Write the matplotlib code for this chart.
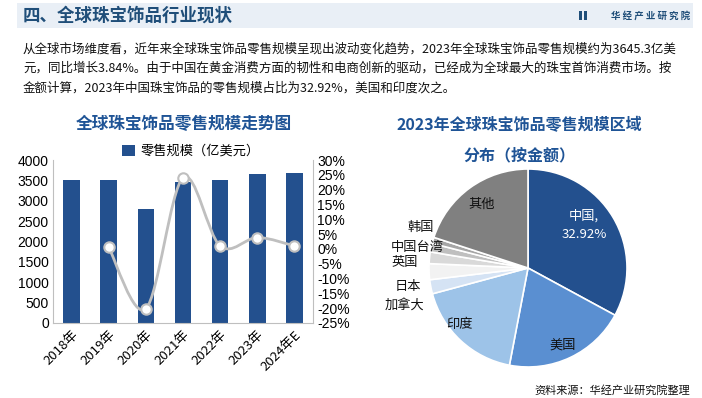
import matplotlib
matplotlib.use('Agg')
import matplotlib.pyplot as plt
import numpy as np
from matplotlib.path import Path
from matplotlib.patches import PathPatch, Rectangle

plt.rcParams['font.family'] = ['Noto Sans CJK SC', 'DejaVu Sans']
plt.rcParams['axes.unicode_minus'] = False

# 数据
years = ['2018年', '2019年', '2020年', '2021年', '2022年', '2023年', '2024年E']
retail = [3510, 3510, 2800, 3470, 3510, 3645.3, 3680]
growth = [None, 0.5, -20.2, 24.0, 1.0, 3.84, 1.0]

regions = ['中国', '美国', '印度', '加拿大', '日本', '英国', '中国台湾', '韩国', '其他']
shares = [32.92, 20.1, 17.8, 2.3, 2.6, 1.9, 1.4, 1.0, 20.0]
pie_colors = ['#23508E', '#5A8FD1', '#9DC3E8', '#D5E3F4', '#F2F2F2',
              '#D9D9D9', '#BFBFBF', '#A6A6A6', '#808080']

blue = '#23508E'
title_blue = '#1F4E79'
sub_blue = '#1F5496'

fig = plt.figure(figsize=(7.02, 3.98), dpi=100)
W, H = 702, 398

def fx(px):
    return px / W

def fy(py):
    return 1 - py / H

# 顶部标题栏
fig.patches.append(Rectangle((fx(17), fy(28)), fx(676), 25 / H, transform=fig.transFigure,
                             facecolor='#E9EFF6', edgecolor='none', zorder=0))
fig.text(fx(23), fy(16), '四、全球珠宝饰品行业现状', fontsize=12.6, fontweight='bold',
         color=title_blue, va='center')
fig.patches.append(Rectangle((fx(579), fy(20)), fx(3), 9 / H, transform=fig.transFigure,
                             facecolor=title_blue, edgecolor='none'))
fig.patches.append(Rectangle((fx(584), fy(20)), fx(3), 9 / H, transform=fig.transFigure,
                             facecolor=title_blue, edgecolor='none'))
fig.text(fx(690), fy(16), '华 经 产 业 研 究 院', fontsize=6.8, fontweight='bold',
         color=title_blue, ha='right', va='center')

para = ['从全球市场维度看，近年来全球珠宝饰品零售规模呈现出波动变化趋势，2023年全球珠宝饰品零售规模约为3645.3亿美',
        '元，同比增长3.84%。由于中国在黄金消费方面的韧性和电商创新的驱动，已经成为全球最大的珠宝首饰消费市场。按',
        '金额计算，2023年中国珠宝饰品的零售规模占比为32.92%，美国和印度次之。']
for i, line in enumerate(para):
    fig.text(fx(23), fy(49 + i * 19.5), line, fontsize=9.0, color='#111111', va='center')

fig.text(fx(184), fy(124), '全球珠宝饰品零售规模走势图', fontsize=12, fontweight='bold',
         color=sub_blue, ha='center', va='center')
fig.text(fx(519), fy(125), '2023年全球珠宝饰品零售规模区域', fontsize=11.5, fontweight='bold',
         color=sub_blue, ha='center', va='center')
fig.text(fx(519), fy(155), '分布（按金额）', fontsize=11.5, fontweight='bold',
         color=sub_blue, ha='center', va='center')

# 柱状图 + 增长率
ax = fig.add_axes([fx(53), fy(323), fx(313 - 53), (323 - 160) / H])
x = np.arange(len(years))
ax.bar(x, retail, width=0.45, color=blue, label='零售规模（亿美元）', zorder=2)
ax.set_xlim(-0.5, len(years) - 0.5)
ax.set_ylim(0, 4000)
ax.set_yticks(np.arange(0, 4001, 500))
ax.set_xticks(x)
ax.set_xticklabels(years, rotation=45, ha='right', rotation_mode='anchor', fontsize=9.5)
ax.tick_params(axis='x', length=0, pad=4)
ax.tick_params(axis='y', length=0, labelsize=10, pad=3)
for lab in ax.get_yticklabels():
    lab.set_family(['Liberation Sans', 'Noto Sans CJK SC'])
for s in ['top', 'right']:
    ax.spines[s].set_visible(False)
for s in ['left', 'bottom']:
    ax.spines[s].set_color('#BFBFBF')
    ax.spines[s].set_linewidth(0.8)
ax.patch.set_alpha(0)
ax.legend(loc='lower center', bbox_to_anchor=(0.53, 0.98), frameon=False, fontsize=9.5,
          handlelength=1.0, handleheight=0.9, handletextpad=0.4, borderaxespad=0)

ax2 = ax.twinx()
ax2.set_ylim(-25, 30)
ax2.set_yticks(np.arange(-25, 31, 5))
ax2.set_yticklabels([f'{v}%' for v in range(-25, 31, 5)])
ax2.tick_params(axis='y', length=0, labelsize=10, pad=3)
for lab in ax2.get_yticklabels():
    lab.set_family(['Liberation Sans', 'Noto Sans CJK SC'])
for s in ['top', 'left', 'bottom']:
    ax2.spines[s].set_visible(False)
ax2.spines['right'].set_color('#BFBFBF')
ax2.spines['right'].set_linewidth(0.8)

# 平滑曲线（Catmull-Rom 转贝塞尔）
gx = [xi for xi, g in zip(x, growth) if g is not None]
gy = [g for g in growth if g is not None]
P = np.column_stack([gx, gy]).astype(float)
verts = [P[0]]
codes = [Path.MOVETO]
n = len(P)
for i in range(n - 1):
    p0 = P[i - 1] if i > 0 else P[i]
    p1, p2 = P[i], P[i + 1]
    p3 = P[i + 2] if i + 2 < n else P[i + 1]
    c1 = p1 + (p2 - p0) / 6
    c2 = p2 - (p3 - p1) / 6
    verts += [c1, c2, p2]
    codes += [Path.CURVE4] * 3
ax2.add_patch(PathPatch(Path(verts, codes), facecolor='none', edgecolor='#BFBFBF',
                        linewidth=2, zorder=3))
ax2.plot(gx, gy, linestyle='none', marker='o', markersize=7.5, markerfacecolor='white',
         markeredgecolor='#BFBFBF', markeredgewidth=1.5, zorder=4)

# 饼图
cx, cy, r = 528, 268, 110
pax = fig.add_axes([fx(cx - r), fy(cy + r), 2 * r / W, 2 * r / H])
pax.pie(shares, colors=pie_colors, startangle=90, counterclock=False, radius=0.9,
        wedgeprops=dict(edgecolor='white', linewidth=1.2))
pax.set_xlim(-1, 1)
pax.set_ylim(-1, 1)
pax.set_aspect('equal')
pax.axis('off')

# 标签位置（轴坐标，单位为半径 100 px）
label_pos = {
    '中国': (0.51, 0.39, 'center', 'white'),
    '美国': (0.32, -0.70, 'center', '#111111'),
    '印度': (-0.62, -0.51, 'center', '#111111'),
    '加拿大': (-0.94, -0.34, 'right', '#111111'),
    '日本': (-0.97, -0.17, 'right', '#111111'),
    '英国': (-1.0, 0.05, 'right', '#111111'),
    '中国台湾': (-0.77, 0.19, 'right', '#111111'),
    '韩国': (-0.85, 0.37, 'right', '#111111'),
    '其他': (-0.42, 0.58, 'center', '#111111'),
}
for name, val in zip(regions, shares):
    lx, ly, ha, col = label_pos[name]
    txt = f'{name},\n{val:.2f}%' if name == '中国' else name
    pax.text(lx, ly, txt, ha=ha, va='center', fontsize=9.5, color=col, linespacing=1.6)

fig.text(fx(690), fy(390), '资料来源：华经产业研究院整理', fontsize=8, color='#111111',
         ha='right', va='center')

fig.savefig('out.png', dpi=100)
